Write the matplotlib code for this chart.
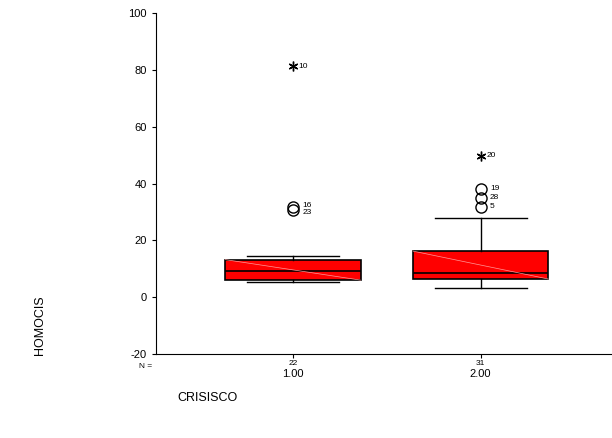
import matplotlib.pyplot as plt
import matplotlib.transforms as mtransforms

plt.rcParams['font.family'] = ['Liberation Sans', 'DejaVu Sans']
plt.rcParams['axes.unicode_minus'] = False

groups = ["1.00", "2.00"]
counts = [22, 31]
q1 = [6.0, 6.4]
med = [9.2, 8.6]
q3 = [13.2, 16.2]
wlo = [5.4, 3.2]
whi = [14.5, 28.0]
# outliers (circles) and extremes (asterisks) with case labels
out_vals = [[31.6, 30.5], [38.2, 35.0, 31.8]]
out_ids = [["16", "23"], ["19", "28", "5"]]
ext_vals = [[81.3], [49.7]]
ext_ids = [["10"], ["20"]]

fig = plt.figure(figsize=(6.12, 4.38), dpi=100)
ax = fig.add_axes([156/612, 1-354/438, 1-156/612, (354-13)/438])

stats = []
for i in range(len(groups)):
    stats.append({"q1": q1[i], "med": med[i], "q3": q3[i],
                  "whislo": wlo[i], "whishi": whi[i], "fliers": []})

pos = [1, 2]
ax.bxp(stats, positions=pos, widths=0.72, patch_artist=True, capwidths=0.49,
       boxprops=dict(facecolor="#ff0000", edgecolor="black", linewidth=1.2),
       medianprops=dict(color="black", linewidth=1.2),
       whiskerprops=dict(color="black", linewidth=1),
       capprops=dict(color="black", linewidth=1))

for i, p in enumerate(pos):
    # faint diagonal inside box
    ax.plot([p-0.36, p+0.36], [q3[i], q1[i]], color="#ff9999", lw=0.5, zorder=3)
    ax.plot([p]*len(out_vals[i]), out_vals[i], "o", mfc="none", mec="black",
            ms=8, mew=1, zorder=4)
    n = len(out_vals[i])
    for k, (v, s) in enumerate(zip(out_vals[i], out_ids[i])):
        dy = 0
        if i == 0:
            dy = 0.8 if k == 0 else -0.8
        ax.text(p+0.05, v + dy, s, fontsize=6, va="center", ha="left")
    ax.plot([p]*len(ext_vals[i]), ext_vals[i], marker=(6, 2, 0), color="black",
            ms=7, mew=1, ls="none", zorder=4)
    for v, s in zip(ext_vals[i], ext_ids[i]):
        ax.text(p+0.03, v, s, fontsize=6, va="center", ha="left")

ax.set_xlim(0.27, 2.70)
ax.set_ylim(-20, 100)
ax.set_yticks([-20, 0, 20, 40, 60, 80, 100])
ax.tick_params(axis="y", labelsize=8, length=3, direction="out")
ax.set_xticks(pos)
ax.set_xticklabels([str(c) for c in counts], fontsize=6)
ax.tick_params(axis="x", length=3, pad=1)
ax.spines["top"].set_visible(False)
ax.spines["right"].set_visible(False)

trans = mtransforms.blended_transform_factory(ax.transData, fig.transFigure)
for p, g in zip(pos, groups):
    ax.text(p, 1-374/438, g, transform=trans, fontsize=8, ha="center", va="center")
fig.text(152/612, 1-366/438, "N =", fontsize=6, ha="right", va="center")

fig.text(40/612, 1-325/438, "HOMOCIS", rotation=90, fontsize=9, ha="center", va="center")
fig.text(207/612, 1-398/438, "CRISISCO", fontsize=9, ha="center", va="center")

fig.savefig("out.png", dpi=100)
